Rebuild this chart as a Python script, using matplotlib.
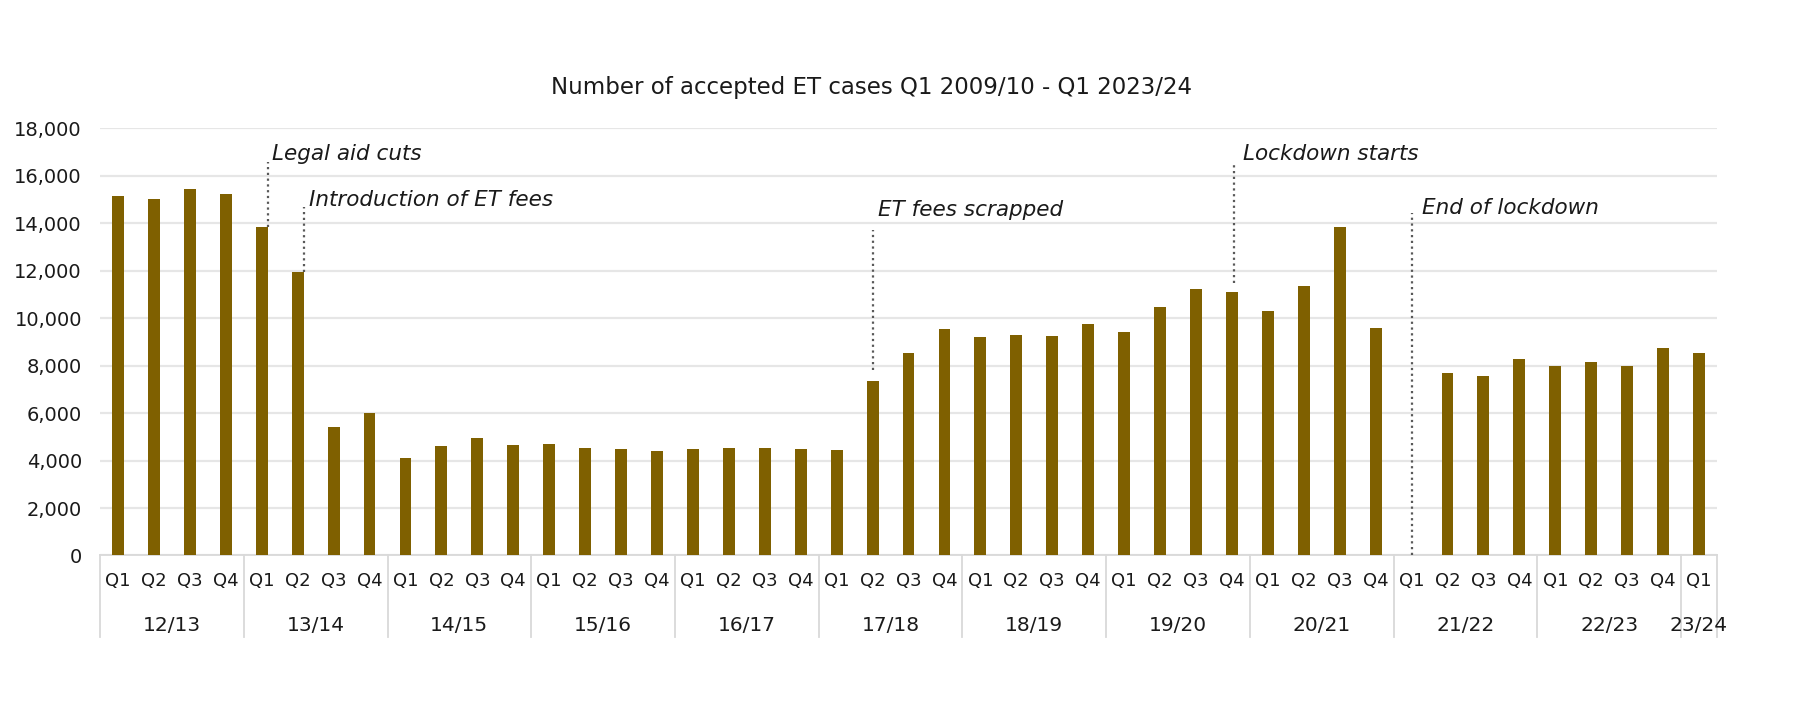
import numpy as np
import matplotlib
matplotlib.use("Agg")
import matplotlib.pyplot as plt
import matplotlib.transforms as mtransforms

plt.rcParams['font.family'] = ['DejaVu Sans']

years = ["12/13", "13/14", "14/15", "15/16", "16/17", "17/18", "18/19",
         "19/20", "20/21", "21/22", "22/23", "23/24"]
quarters_per_year = [4, 4, 4, 4, 4, 4, 4, 4, 4, 4, 4, 1]
quarter_labels = ["Q1", "Q2", "Q3", "Q4"]

cases = [15160, 15010, 15460, 15230,
         13850, 11950, 5420, 6020,
         4110, 4600, 4940, 4670,
         4710, 4540, 4490, 4390,
         4490, 4540, 4540, 4490,
         4430, 7340, 8540, 9540,
         9200, 9310, 9260, 9750,
         9420, 10460, 11230, 11120,
         10300, 11350, 13850, 9580,
         np.nan, 7710, 7560, 8270,
         7990, 8160, 7990, 8760,
         8520]

# annotations: (text, line x, line y0, line y1, text x, text y)
ann_text = ["Legal aid cuts", "Introduction of ET fees", "ET fees scrapped",
            "Lockdown starts", "End of lockdown"]
ann_line_x = [4.17, 5.17, 21.0, 31.06, 36.0]
ann_line_y0 = [13850, 11950, 7830, 11490, 0]
ann_line_y1 = [16600, 14670, 13710, 16550, 14420]
ann_text_x = [4.29, 5.31, 21.14, 31.32, 36.29]
ann_text_y = [16920, 14980, 14560, 16920, 14630]

title = "Number of accepted ET cases Q1 2009/10 - Q1 2023/24"

cat_q = []
for n in quarters_per_year:
    cat_q += quarter_labels[:n]
x = np.arange(len(cat_q))

fig = plt.figure(figsize=(17.93, 7.19), dpi=100)
ax = fig.add_axes([0.0558, 0.2274, 0.9576 - 0.0558, 0.8213 - 0.2274])

ax.bar(x, cases, width=0.33, color="#7F6000", zorder=3)

ax.set_xlim(-0.5, len(cat_q) - 0.5)
ax.set_ylim(0, 18000)
ax.set_yticks(np.arange(0, 18001, 2000))
ax.set_yticklabels([f"{v:,}" for v in range(0, 18001, 2000)])
ax.yaxis.grid(True, color="#E6E6E6", linewidth=1.6, zorder=0)
ax.set_axisbelow(True)
for s in ["top", "right", "left"]:
    ax.spines[s].set_visible(False)
ax.spines["bottom"].set_color("#D9D9D9")
ax.spines["bottom"].set_linewidth(1.3)
ax.tick_params(axis="y", length=0, pad=13, labelsize=14, labelcolor="#1a1a1a")
ax.set_xticks(x)
ax.set_xticklabels(cat_q)
ax.tick_params(axis="x", length=0, pad=12, labelsize=13, labelcolor="#1a1a1a")

# multi-level category axis: year labels and separators
trans = mtransforms.blended_transform_factory(ax.transData, ax.transAxes)
start = 0
bounds = [-0.5]
for yr, n in zip(years, quarters_per_year):
    center = start + (n - 1) / 2
    ax.text(center, -0.163, yr, transform=trans, ha="center", va="center",
            fontsize=14.5, color="#1a1a1a")
    start += n
    bounds.append(start - 0.5)
for b in bounds:
    ax.plot([b, b], [0, -0.19], transform=trans, color="#D9D9D9",
            linewidth=1.3, clip_on=False)

for t, lx, y0, y1, tx, ty in zip(ann_text, ann_line_x, ann_line_y0,
                                 ann_line_y1, ann_text_x, ann_text_y):
    ax.plot([lx, lx], [y0, y1], linestyle=(0, (1, 1.6)), color="#595959",
            linewidth=1.6, zorder=4)
    ax.text(tx, ty, t, ha="left", va="center", fontsize=15.5, style="italic",
            color="#1a1a1a", zorder=5)

fig.text(0.486, 0.878, title, ha="center", va="center", fontsize=16.5,
         color="#1a1a1a")

fig.savefig("out.png", dpi=100, facecolor="white")
